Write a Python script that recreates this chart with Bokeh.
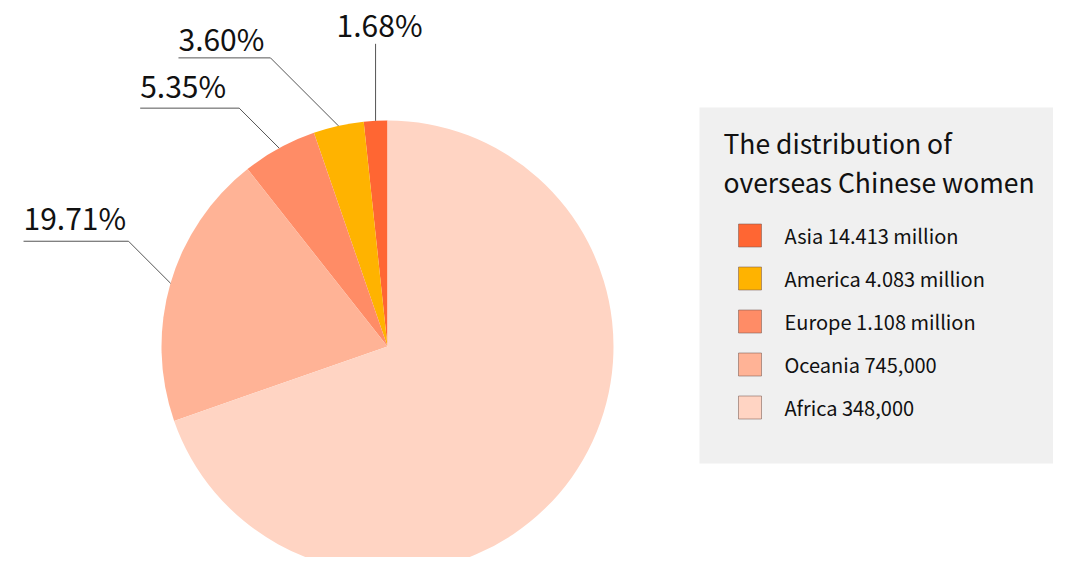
import math
from bokeh.plotting import figure
from bokeh.models import Range1d
from bokeh.core.properties import value
from bokeh.embed import file_html
from bokeh.resources import INLINE

# ---- data ----
shares = [1.68, 3.60, 5.35, 19.71, 69.66]            # pie slices (%) from 12 o'clock, counter-clockwise
share_labels = ["1.68%", "3.60%", "5.35%", "19.71%", ""]
colors = ["#FF6633", "#FFB300", "#FF8C66", "#FFB396", "#FFD4C3"]
legend_names = ["Asia 14.413 million", "America 4.083 million", "Europe 1.108 million",
                "Oceania 745,000", "Africa 348,000"]
legend_title = ["The distribution of", "overseas Chinese women"]

FONT = value("Noto Sans CJK SC")
W, H = 1053, 557
TOP = 573  # data_y = TOP - pixel_y

p = figure(width=W, height=H, output_backend="svg", toolbar_location=None,
           x_range=Range1d(0, W), y_range=Range1d(TOP - H, TOP),
           min_border=0, outline_line_color=None)
p.axis.visible = False
p.grid.visible = False
p.background_fill_color = "white"
p.border_fill_color = "white"

def Y(py):
    return TOP - py

# ---- pie ----
cx, cy, r = 387, Y(346), 226
starts, ends, mids = [], [], []
cum = 0.0
for s in shares:
    a0 = math.pi / 2 + 2 * math.pi * cum / 100.0
    a1 = math.pi / 2 + 2 * math.pi * (cum + s) / 100.0
    starts.append(a0); ends.append(a1); mids.append((a0 + a1) / 2)
    cum += s

p.wedge(x=[cx] * len(shares), y=[cy] * len(shares), radius=r,
        start_angle=starts, end_angle=ends, direction="anticlock",
        fill_color=colors, line_color=None)

# ---- leader lines & labels ----
# (kind, diagonal / vertical length, horizontal length, label gap above line)
LBL_SIZE = 30
LBL = 0.42 * LBL_SIZE  # baseline correction for the label font
leader = [("v", 77, 0, 7), ("d", 68, 92, 7), ("d", 40, 99, 11), ("d", 42, 105, 12)]
line_col = "#555555"
for i, (kind, d, h, gap) in enumerate(leader):
    ex = cx + r * math.cos(mids[i])
    ey = cy + r * math.sin(mids[i])
    if kind == "v":
        p.line([ex, ex], [ey, ey + d], line_color=line_col, line_width=1)
        p.text(x=[ex + 4], y=[ey + d + gap + LBL], text=[share_labels[i]], text_font=FONT,
               text_font_size=f"{LBL_SIZE}px", text_align="center", text_baseline="alphabetic",
               text_color="#111111")
    else:
        bx, by = ex - d, ey + d
        hx = bx - h
        p.line([ex, bx, hx], [ey, by, by], line_color=line_col, line_width=1)
        p.text(x=[hx], y=[by + gap + LBL], text=[share_labels[i]], text_font=FONT,
               text_font_size=f"{LBL_SIZE}px", text_align="left", text_baseline="alphabetic",
               text_color="#111111")

# ---- legend box ----
p.quad(left=[699], right=[1062], bottom=[Y(463)], top=[Y(107)],
       fill_color="#F0F0F0", line_color=None)
for j, t in enumerate(legend_title):
    p.text(x=[723], y=[Y(142 + 39 * j)], text=[t], text_font=FONT, text_font_size="26.5px",
           text_align="left", text_baseline="alphabetic", text_color="#111111")

row_c = [Y(235 + 43 * k) for k in range(len(legend_names))]
p.rect(x=[749.5] * len(legend_names), y=row_c, width=23, height=23,
       fill_color=colors, line_color="#7a5a50", line_alpha=0.55, line_width=1)
p.text(x=[784] * len(legend_names), y=[c for c in row_c], text=legend_names,
       text_font=FONT, text_font_size="20px", text_align="left",
       text_baseline="alphabetic", text_color="#111111")

open("out.html", "w").write(file_html(p, INLINE))
